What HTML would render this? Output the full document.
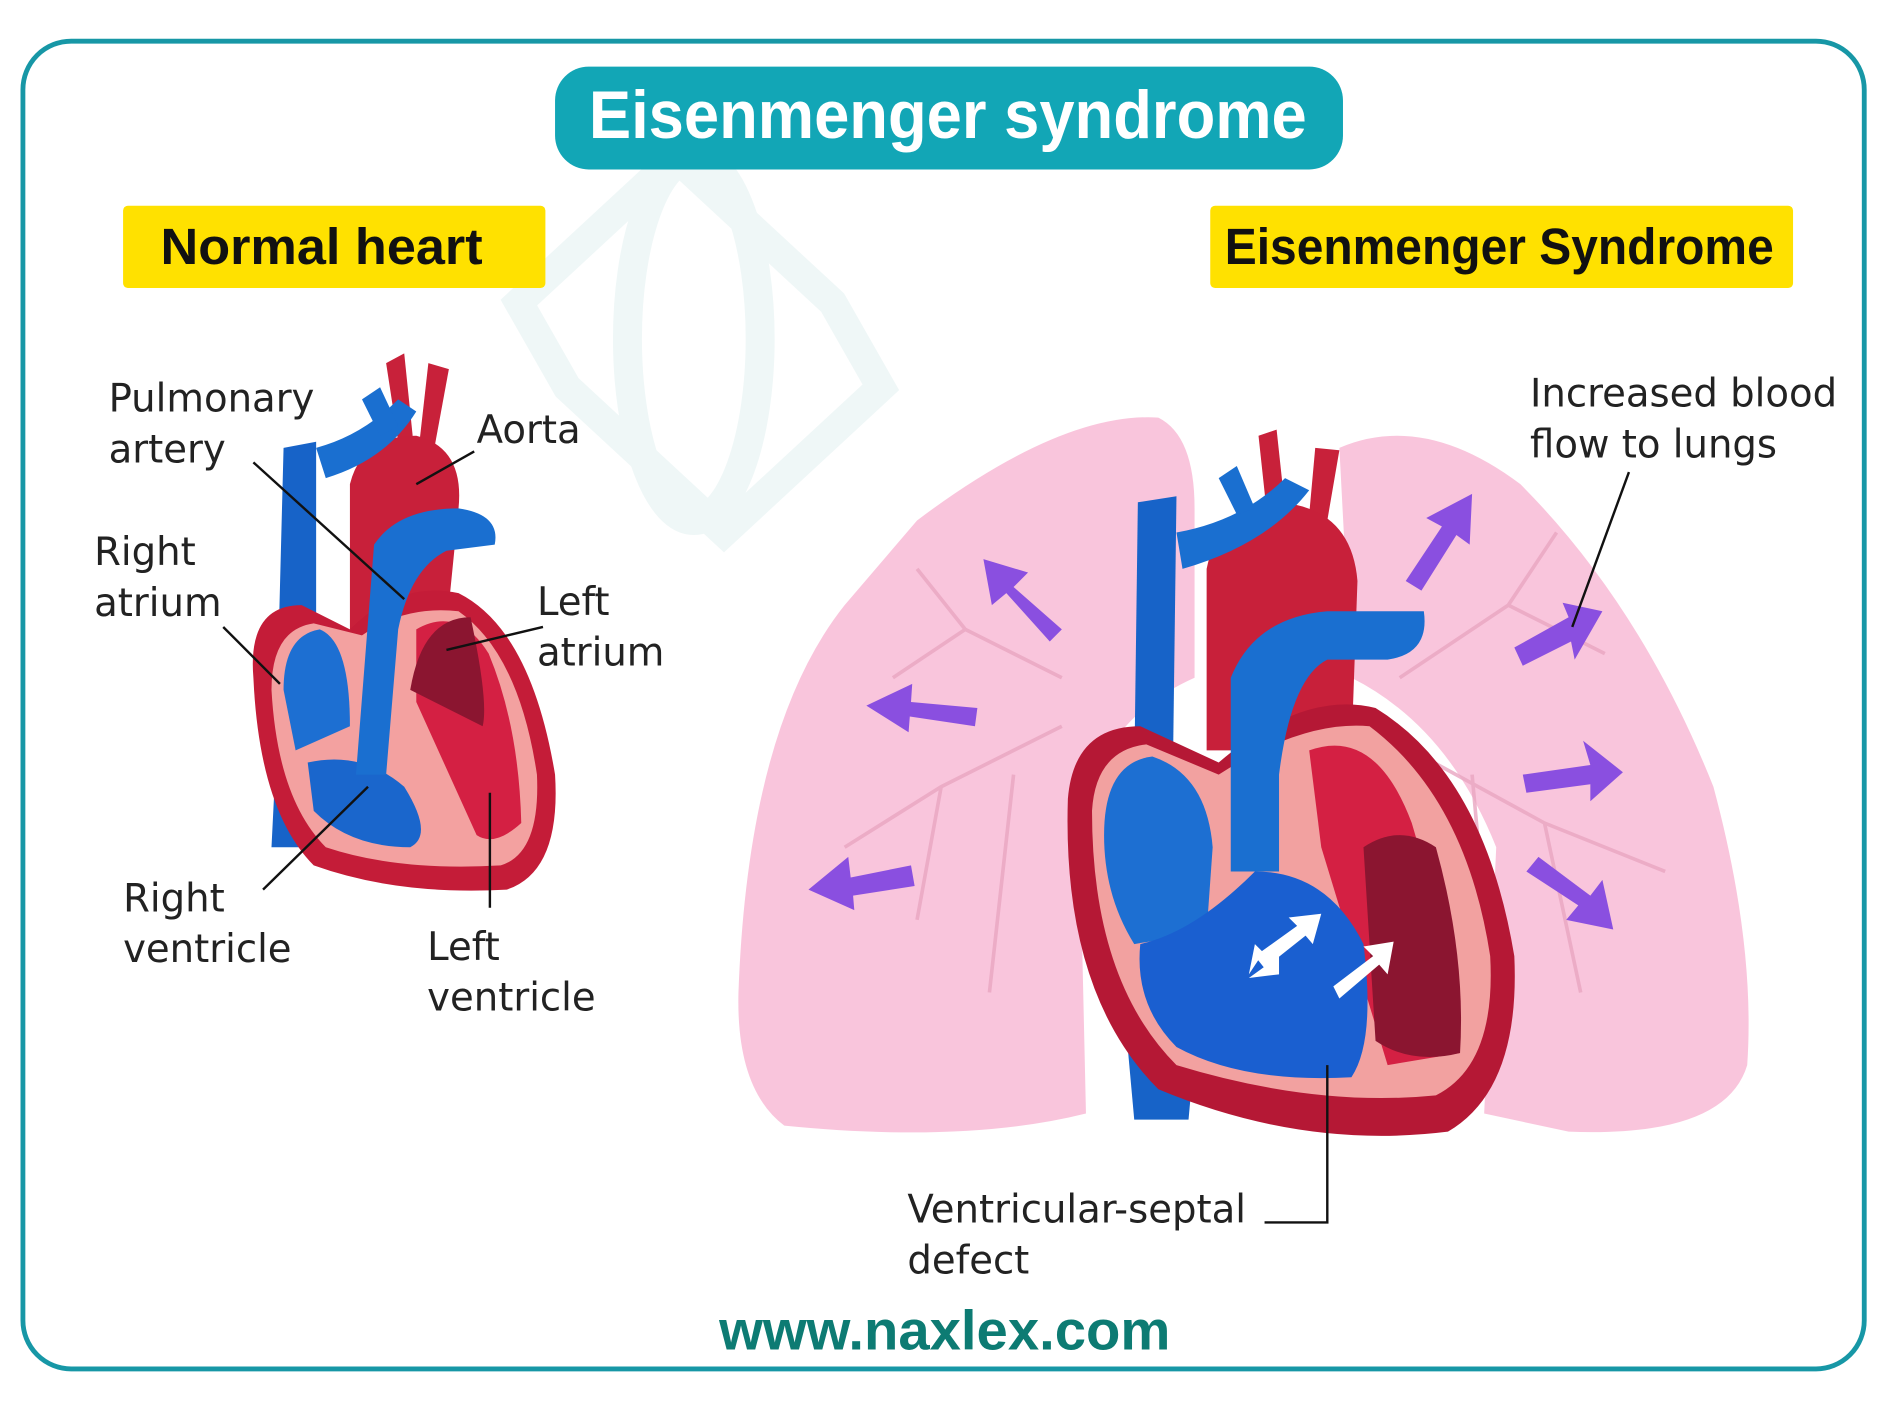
<!DOCTYPE html>
<html><head><meta charset="utf-8"><style>
html,body{margin:0;padding:0;background:#fff;}
svg{display:block}
text{font-family:"DejaVu Sans","Liberation Sans",sans-serif;}
.h{font-family:"Liberation Sans",sans-serif;font-weight:bold;}
</style></head><body>
<svg width="1892" height="1404" viewBox="0 0 1568 1160" preserveAspectRatio="none" xmlns="http://www.w3.org/2000/svg">
<rect x="0" y="0" width="1568" height="1160" fill="#fff"/>
<rect x="19" y="34" width="1526" height="1097" rx="40" fill="#fff" stroke="#1797a6" stroke-width="4"/>
<!-- watermark -->
<g fill="none" stroke="#eff7f7" stroke-width="24">
<path d="M430 250 L560 130 L690 250 L730 320 L600 440 L470 320 Z"/>
<ellipse cx="575" cy="280" rx="55" ry="150"/>
</g>
<!-- title -->
<rect x="460" y="55" width="653" height="85" rx="28" fill="#12a6b6"/>
<text class="h" x="488" y="114" textLength="595" lengthAdjust="spacingAndGlyphs" fill="#fff" font-size="56">Eisenmenger syndrome</text>
<rect x="102" y="170" width="350" height="68" rx="4" fill="#ffe100"/>
<text class="h" x="133" y="218" textLength="267" lengthAdjust="spacingAndGlyphs" fill="#111" font-size="42">Normal heart</text>
<rect x="1003" y="170" width="483" height="68" rx="4" fill="#ffe100"/>
<text class="h" x="1015" y="218" textLength="455" lengthAdjust="spacingAndGlyphs" fill="#111" font-size="42">Eisenmenger Syndrome</text>

<!-- normal heart -->
<g>
<path d="M320 300 L335 292 L342 360 L330 365 Z" fill="#c8213a"/>
<path d="M355 300 L372 305 L360 370 L348 362 Z" fill="#c8213a"/>
<path d="M290 400 Q300 360 345 360 Q385 370 380 420 L370 520 L290 520 Z" fill="#c8203a"/>
<path d="M235 370 L262 365 L262 700 L245 700 L225 700 L228 640 Z" fill="#1763c8"/>
<path d="M262 370 Q300 360 330 330 L345 340 Q320 380 270 395 Z" fill="#1a6fd0"/>
<path d="M300 330 L315 320 L330 352 L315 360 Z" fill="#1a6fd0"/>
<path d="M210 560 Q205 500 250 500 L290 520 Q330 480 380 490 Q440 520 460 640 Q465 720 420 735 Q330 740 260 715 Q215 670 210 560 Z" fill="#c41c38"/>
<path d="M225 570 Q225 520 260 515 L300 525 Q335 500 380 505 Q430 540 445 640 Q448 705 415 715 Q330 720 270 700 Q230 660 225 570 Z" fill="#f3a1a0"/>
<path d="M345 520 Q380 500 405 540 Q430 600 432 680 Q410 700 395 690 L345 580 Z" fill="#d42043"/>
<path d="M235 570 Q235 525 265 520 Q290 530 290 600 L245 620 Z" fill="#1d6fd2"/>
<path d="M255 630 Q300 620 335 650 Q360 690 340 700 Q290 700 260 670 Z" fill="#1a66cc"/>
<path d="M310 450 Q330 420 380 420 Q415 425 410 450 L370 455 Q340 470 330 520 L320 640 L295 640 Z" fill="#1a6fd0"/>
<path d="M340 570 Q350 510 390 510 Q405 580 400 600 Z" fill="#8b1530"/>
</g>
<g font-size="32" fill="#222">
<text x="90" y="340">Pulmonary</text><text x="90" y="382">artery</text>
<text x="395" y="366">Aorta</text>
<text x="78" y="467">Right</text><text x="78" y="509">atrium</text>
<text x="445" y="508">Left</text><text x="445" y="550">atrium</text>
<text x="102" y="753">Right</text><text x="102" y="795">ventricle</text>
<text x="354" y="793">Left</text><text x="354" y="835">ventricle</text>
</g>
<g stroke="#111" stroke-width="2" fill="none">
<line x1="210" y1="382" x2="335" y2="495"/>
<line x1="393" y1="373" x2="345" y2="400"/>
<line x1="185" y1="518" x2="232" y2="565"/>
<line x1="450" y1="518" x2="370" y2="537"/>
<line x1="218" y1="735" x2="305" y2="650"/>
<line x1="406" y1="655" x2="406" y2="750"/>
</g>

<!-- lungs -->
<g fill="#f8bfd8" opacity="0.9">
<path d="M760 430 Q880 340 960 345 Q990 360 990 420 L990 560 Q900 600 895 700 L900 920 Q800 945 650 930 Q610 900 612 820 Q620 600 700 500 Z"/>
<path d="M1110 370 Q1180 340 1260 400 Q1360 500 1420 650 Q1455 780 1448 880 Q1430 940 1300 935 L1230 920 L1240 700 Q1200 600 1120 560 Z"/>
</g>
<g stroke="#e8a5c0" stroke-width="3" fill="none" opacity="0.8">
<path d="M880 560 L800 520 L760 470 M800 520 L740 560 M880 600 L780 650 L700 700 M780 650 L760 760 M840 640 L820 820"/>
<path d="M1160 560 L1250 500 L1290 440 M1250 500 L1330 540 M1170 620 L1280 680 L1380 720 M1280 680 L1310 820 M1220 640 L1240 860"/>
</g>
<!-- purple arrows -->
<g fill="#8a4fe0">
<path d="M880 520 L840 485 L852 473 L815 462 L822 500 L834 490 L870 530 Z"/>
<path d="M810 585 L755 580 L756 565 L718 583 L753 605 L754 592 L808 600 Z"/>
<path d="M755 715 L705 725 L703 708 L670 735 L708 752 L707 740 L758 732 Z"/>
<path d="M1165 480 L1195 435 L1182 428 L1220 408 L1218 450 L1207 442 L1178 488 Z"/>
<path d="M1255 535 L1300 510 L1295 498 L1328 505 L1305 545 L1302 530 L1262 550 Z"/>
<path d="M1262 640 L1318 632 L1312 612 L1345 638 L1318 662 L1318 648 L1265 655 Z"/>
<path d="M1265 720 L1308 748 L1298 760 L1337 768 L1328 727 L1318 740 L1275 708 Z"/>
</g>

<!-- big heart -->
<g>
<path d="M1043 360 L1058 355 L1065 420 L1050 425 Z" fill="#c8213a"/>
<path d="M1090 370 L1110 372 L1100 430 L1085 425 Z" fill="#c8213a"/>
<path d="M1000 470 Q1010 420 1060 415 Q1120 420 1125 480 L1120 620 L1000 620 Z" fill="#c8203a"/>
<path d="M943 415 L975 410 L972 640 L940 640 Z" fill="#1763c8"/>
<path d="M975 440 Q1030 430 1065 395 L1085 405 Q1050 450 980 470 Z" fill="#1a6fd0"/>
<path d="M1010 395 L1025 385 L1040 420 L1025 425 Z" fill="#1a6fd0"/>
<path d="M935 870 L990 870 L985 925 L940 925 Z" fill="#1763c8"/>
<path d="M885 660 Q890 600 945 600 L1010 630 Q1080 570 1140 585 Q1230 640 1255 790 Q1260 900 1200 935 Q1080 950 960 900 Q880 820 885 660 Z" fill="#b51835"/>
<path d="M905 670 Q908 620 950 615 L1010 640 Q1080 595 1135 600 Q1215 660 1235 790 Q1240 880 1190 905 Q1090 915 975 880 Q905 810 905 670 Z" fill="#f2a1a0"/>
<path d="M1085 620 Q1140 600 1170 680 Q1200 780 1210 870 L1150 880 L1095 700 Z" fill="#d42043"/>
<path d="M1130 700 Q1160 680 1190 700 Q1215 790 1210 870 Q1170 880 1140 860 Z" fill="#8b1530"/>
<path d="M915 690 Q915 630 955 625 Q1000 640 1005 700 L1000 770 L940 780 Q915 740 915 690 Z" fill="#1d6fd2"/>
<path d="M945 780 Q990 770 1040 720 Q1100 720 1130 780 Q1140 860 1120 890 Q1030 895 975 865 Q940 830 945 780 Z" fill="#1a5fd0"/>
<path d="M1020 560 Q1040 510 1100 505 L1180 505 Q1185 540 1150 545 L1100 545 Q1070 560 1060 640 L1060 720 L1020 720 Z" fill="#1a6fd0"/>
<path d="M1040 790 L1075 765 L1068 758 L1095 755 L1088 780 L1082 773 L1048 800 Z M1035 805 L1040 780 L1047 787 Z" fill="#fff"/>
<path d="M1105 815 L1138 790 L1130 782 L1155 778 L1150 805 L1143 797 L1110 825 Z" fill="#fff"/>
<path d="M1060 790 L1035 808 L1060 805 Z" fill="#fff"/>
</g>

<!-- right labels -->
<g font-size="32" fill="#222">
<text x="1268" y="336">Increased blood</text><text x="1268" y="378">flow to lungs</text>
<text x="752" y="1010">Ventricular-septal</text><text x="752" y="1052">defect</text>
</g>
<g stroke="#111" stroke-width="2" fill="none">
<line x1="1350" y1="390" x2="1303" y2="518"/>
<polyline points="1048,1010 1100,1010 1100,880"/>
</g>
<text class="h" x="596" y="1115" textLength="374" lengthAdjust="spacingAndGlyphs" fill="#0d7b73" font-size="46">www.naxlex.com</text>
</svg>
</body></html>
